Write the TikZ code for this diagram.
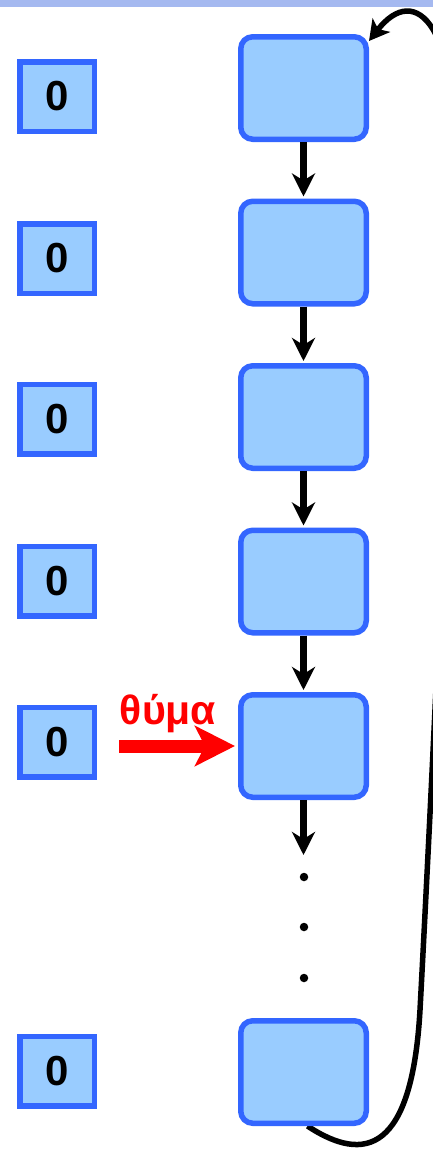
\documentclass[tikz,border=0pt]{standalone}
\usepackage{fontspec}
\setmainfont{Liberation Sans}
\usetikzlibrary{arrows.meta,backgrounds}
\definecolor{boxfill}{HTML}{99CCFF}
\definecolor{boxline}{HTML}{3366FF}
\definecolor{band}{RGB}{165,185,240}
\begin{document}
\begin{tikzpicture}[x=1pt,y=-1pt,
  bigbox/.style={draw=boxline,fill=boxfill,line width=5.5pt,rounded corners=12pt,minimum width=125.5pt,minimum height=102.5pt,inner sep=0pt},
  smallbox/.style={draw=boxline,fill=boxfill,line width=5.5pt,minimum width=74.5pt,minimum height=69.5pt,inner sep=0pt,font=\fontsize{42}{42}\selectfont\bfseries},
  link/.style={line width=7.5pt,-{Stealth[length=23pt,width=23pt,inset=7pt]},shorten >=2pt},
  loop/.style={line width=5.5pt,-{Stealth[length=20pt,width=22pt,inset=5pt]}},
  dot/.style={circle,fill=black,inner sep=0pt,minimum size=8.5pt},
  victim/.style={red,line width=13pt,-{Stealth[length=40pt,width=40pt,inset=10pt]},shorten >=3pt},
  lbl/.style={text=red,font=\fontsize{41}{41}\selectfont\bfseries,inner sep=0pt,anchor=base}]
\useasboundingbox (0,0) rectangle (433,1152);
\fill[band] (0,0) rectangle (433,7);
% big boxes
\node[bigbox] (b1) at (303.5,88) {};
\node[bigbox] (b2) at (303.5,252.5) {};
\node[bigbox] (b3) at (303.5,417) {};
\node[bigbox] (b4) at (303.5,581.5) {};
\node[bigbox] (b5) at (303.5,746) {};
\node[bigbox] (b6) at (303.5,1072) {};
% small boxes
\node[smallbox] (s1) at (57,96.5) {0};
\node[smallbox] (s2) at (57,258.5) {0};
\node[smallbox] (s3) at (57,419) {0};
\node[smallbox] (s4) at (57,581) {0};
\node[smallbox] (s5) at (57,742) {0};
\node[smallbox] (s6) at (57,1071) {0};
% links
\draw[link] (b1) -- (b2);
\draw[link] (b2) -- (b3);
\draw[link] (b3) -- (b4);
\draw[link] (b4) -- (b5);
\coordinate (e5) at (303.5,855);
\draw[link,shorten >=0pt] (b5) -- (e5);
\node[dot] (d1) at (304,877) {};
\node[dot] (d2) at (304,927) {};
\node[dot] (d3) at (304,978) {};
% victim
\coordinate (vs) at (119,746);
\draw[victim] (vs) -- (b5.west);
\node[lbl] (vt) at (168,724) {θύμα};
% loop
\begin{scope}[on background layer]
\draw[loop] ([xshift=4pt]b6.south) .. controls (365,1164) and (412,1152) .. (420,1010)
  .. controls (428,860) and (446,500) .. (456,200)
  .. controls (462,20) and (415,-18) .. ([yshift=-7pt]b1.north east);
\end{scope}
\end{tikzpicture}
\end{document}
